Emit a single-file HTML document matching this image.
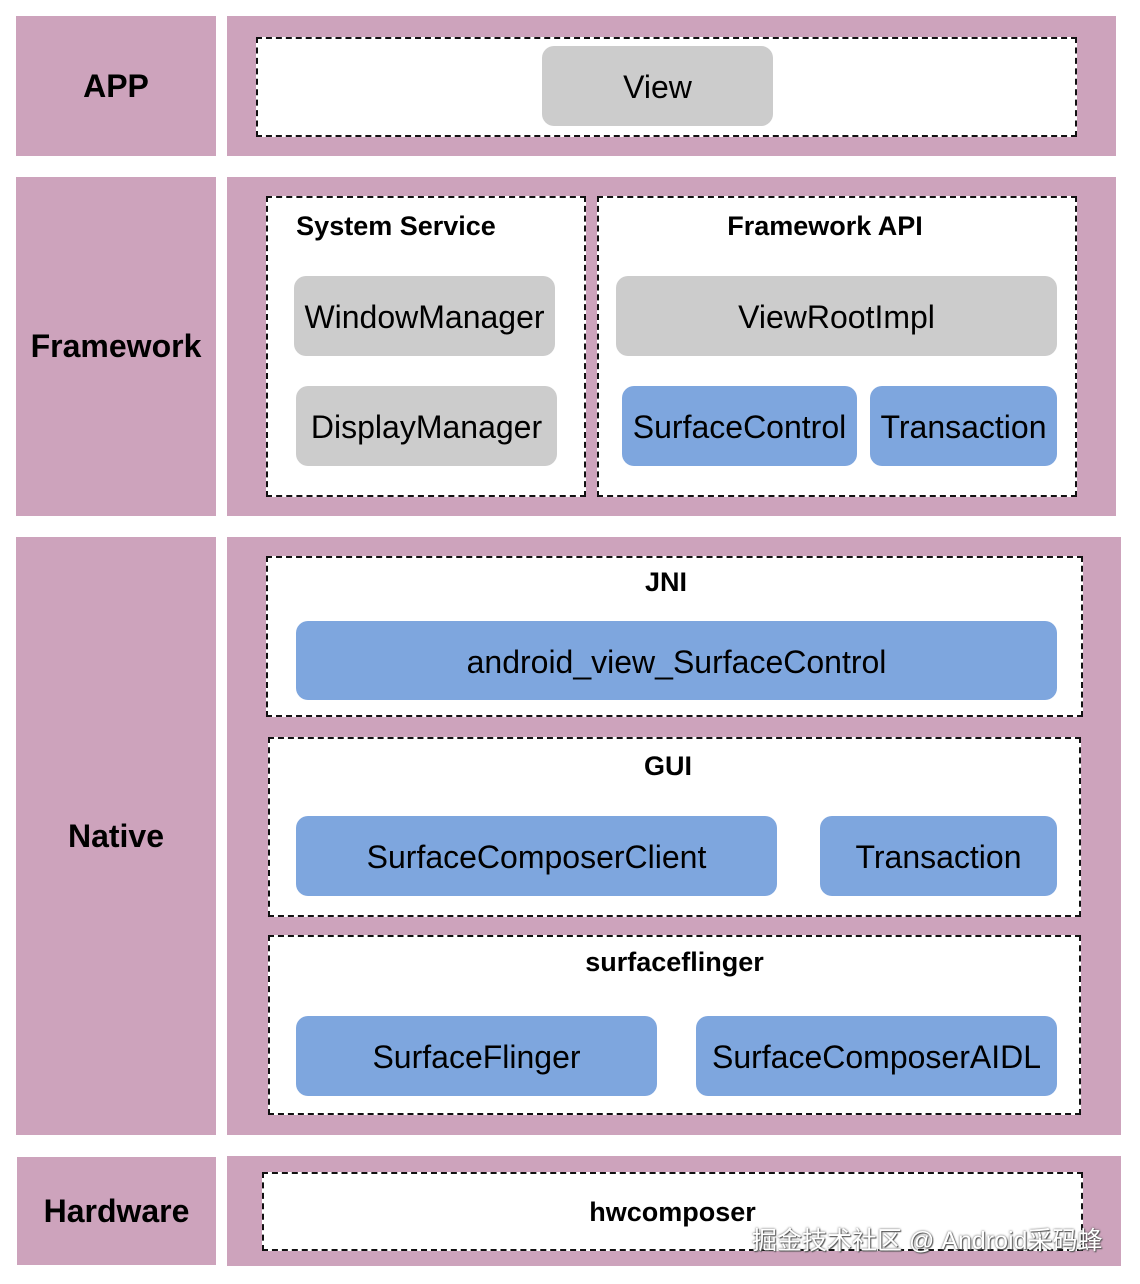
<!DOCTYPE html>
<html><head><meta charset="utf-8"><style>
body{margin:0;width:1140px;height:1284px;background:#fff;position:relative;overflow:hidden;font-family:"Liberation Sans",Arial,sans-serif;}
div{position:absolute;box-sizing:border-box;}
.p{background:#cda3bc;}
.l{display:flex;align-items:center;justify-content:center;font-weight:bold;font-size:32px;color:#000;}
.d{background:#fff;border:2px dashed #111;}
.t{font-weight:bold;font-size:27px;text-align:center;color:#000;}
.n{border-radius:12px;display:flex;align-items:center;justify-content:center;font-size:32px;color:#000;padding-top:3px;}
.g{background:#cccccc;}
.b{background:#7ea6de;}
</style></head><body>
<div class="p l" style="left:16px;top:16px;width:200px;height:140px;">APP</div>
<div class="p" style="left:227px;top:16px;width:889px;height:140px;"></div>
<div class="d" style="left:256px;top:37px;width:821px;height:100px;"></div>
<div class="n g" style="left:542px;top:46px;width:231px;height:80px;">View</div>

<div class="p l" style="left:16px;top:177px;width:200px;height:339px;">Framework</div>
<div class="p" style="left:227px;top:177px;width:889px;height:339px;"></div>
<div class="d" style="left:266px;top:196px;width:320px;height:301px;"></div>
<div class="t" style="left:266px;top:211px;width:260px;">System Service</div>
<div class="d" style="left:597px;top:196px;width:480px;height:301px;"></div>
<div class="t" style="left:597px;top:211px;width:456px;">Framework API</div>
<div class="n g" style="left:294px;top:276px;width:261px;height:80px;">WindowManager</div>
<div class="n g" style="left:296px;top:386px;width:261px;height:80px;">DisplayManager</div>
<div class="n g" style="left:616px;top:276px;width:441px;height:80px;">ViewRootImpl</div>
<div class="n b" style="left:622px;top:386px;width:235px;height:80px;">SurfaceControl</div>
<div class="n b" style="left:870px;top:386px;width:187px;height:80px;">Transaction</div>

<div class="p l" style="left:16px;top:537px;width:200px;height:598px;">Native</div>
<div class="p" style="left:227px;top:537px;width:894px;height:598px;"></div>
<div class="d" style="left:266px;top:556px;width:817px;height:161px;"></div>
<div class="t" style="left:266px;top:567px;width:800px;">JNI</div>
<div class="n b" style="left:296px;top:621px;width:761px;height:79px;">android_view_SurfaceControl</div>
<div class="d" style="left:268px;top:737px;width:813px;height:180px;"></div>
<div class="t" style="left:268px;top:751px;width:800px;">GUI</div>
<div class="n b" style="left:296px;top:816px;width:481px;height:80px;">SurfaceComposerClient</div>
<div class="n b" style="left:820px;top:816px;width:237px;height:80px;">Transaction</div>
<div class="d" style="left:268px;top:935px;width:813px;height:180px;"></div>
<div class="t" style="left:268px;top:947px;width:813px;">surfaceflinger</div>
<div class="n b" style="left:296px;top:1016px;width:361px;height:80px;">SurfaceFlinger</div>
<div class="n b" style="left:696px;top:1016px;width:361px;height:80px;">SurfaceComposerAIDL</div>

<div class="p l" style="left:17px;top:1157px;width:199px;height:108px;">Hardware</div>
<div class="p" style="left:227px;top:1156px;width:894px;height:110px;"></div>
<div class="d" style="left:262px;top:1172px;width:821px;height:79px;"></div>
<div class="t" style="left:262px;top:1197px;width:821px;">hwcomposer</div>
<div style="left:752px;top:1221px;font-size:25px;color:#fff;white-space:nowrap;font-family:'Liberation Sans','Noto Sans CJK SC',sans-serif;text-shadow:0 0 2px #555,1px 1px 1px #555;">掘金技术社区 @ Android采码蜂</div>
</body></html>
